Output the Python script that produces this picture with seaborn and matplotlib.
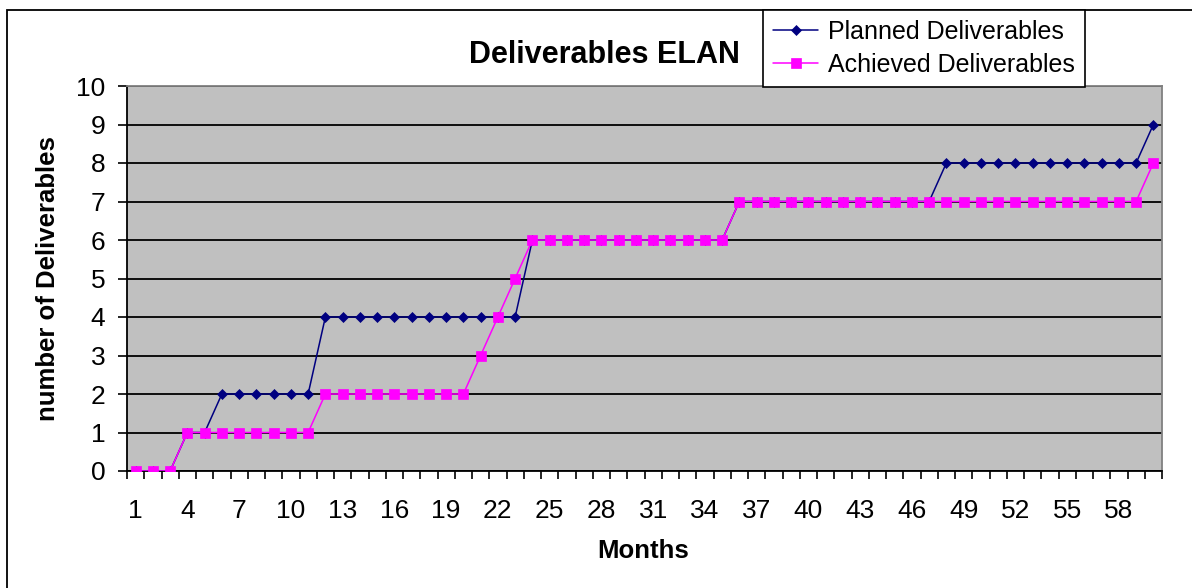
import matplotlib
matplotlib.use("Agg")
import matplotlib.pyplot as plt
import seaborn as sns
import numpy as np
from matplotlib.patches import Rectangle
from matplotlib.ticker import FixedLocator

# data
months = list(range(1, 61))
planned = [0, 0, 0, 1, 1, 2, 2, 2, 2, 2, 2,
           4, 4, 4, 4, 4, 4, 4, 4, 4, 4, 4, 4,
           6, 6, 6, 6, 6, 6, 6, 6, 6, 6, 6, 6,
           7, 7, 7, 7, 7, 7, 7, 7, 7, 7, 7, 7,
           8, 8, 8, 8, 8, 8, 8, 8, 8, 8, 8, 8,
           9]
achieved = [0, 0, 0, 1, 1, 1, 1, 1, 1, 1, 1,
            2, 2, 2, 2, 2, 2, 2, 2, 2,
            3, 4, 5,
            6, 6, 6, 6, 6, 6, 6, 6, 6, 6, 6, 6,
            7, 7, 7, 7, 7, 7, 7, 7, 7, 7, 7, 7,
            7, 7, 7, 7, 7, 7, 7, 7, 7, 7, 7, 7,
            8]
xtick_labels = list(range(1, 59, 3))

sns.set_theme(style="white")
plt.rcParams['font.family'] = ['Liberation Sans', 'DejaVu Sans']
plt.rcParams['text.color'] = 'black'

W, H = 1192, 588
fig = plt.figure(figsize=(W / 100, H / 100), dpi=100, facecolor='white')
ax = fig.add_axes([127 / W, 1 - 471 / H, (1162 - 127) / W, (471 - 86) / H])
ax.set_facecolor('#C0C0C0')

sns.lineplot(x=months, y=planned, ax=ax, color='#000080', marker='D',
             markersize=5.4, markeredgecolor='#000080', markeredgewidth=0.5,
             linewidth=1.1, label='Planned Deliverables', zorder=3)
sns.lineplot(x=months, y=achieved, ax=ax, color='#FF00FF', marker='s',
             markersize=6.8, markeredgecolor='#FF00FF', markeredgewidth=0.5,
             linewidth=1.1, label='Achieved Deliverables', zorder=4)

ax.set_xlim(0.5, 60.5)
ax.set_ylim(0, 10)
ax.set_yticks(range(0, 11))
ax.yaxis.grid(True, color='black', linewidth=1.3)
ax.set_axisbelow(True)
ax.xaxis.grid(False)

ax.set_xticks(xtick_labels)
ax.set_xticklabels([str(v) for v in xtick_labels])
ax.xaxis.set_minor_locator(FixedLocator(np.arange(0.5, 61, 1)))
ax.tick_params(axis='x', which='major', length=0, pad=20, labelsize=19, colors='black')
ax.tick_params(axis='x', which='minor', length=6, width=1.2, direction='out',
               color='black', bottom=True)
ax.tick_params(axis='y', which='major', length=6.5, width=1.2, direction='out',
               pad=9, labelsize=19, colors='black', left=True)

for side in ['left', 'bottom']:
    ax.spines[side].set_color('black')
    ax.spines[side].set_linewidth(1.3)
for side in ['top', 'right']:
    ax.spines[side].set_color('#808080')
    ax.spines[side].set_linewidth(1.3)

ax.set_xlabel('')
ax.set_ylabel('')
handles, labels = ax.get_legend_handles_labels()
ax.get_legend().remove()

leg = fig.legend(handles, labels, loc='upper left', bbox_to_anchor=(763 / W, 1 - 10 / H),
                 fontsize=18, frameon=True, fancybox=False, edgecolor='black',
                 framealpha=1, borderpad=0.4, handlelength=1.8, handletextpad=0.4,
                 labelspacing=0.35, borderaxespad=0)
leg.get_frame().set_linewidth(1.2)
for t in leg.get_texts():
    t.set_color('black')

fig.text(604 / W, 1 - 55 / H, 'Deliverables ELAN', ha='center', va='center',
         fontsize=22, fontweight='bold', color='black')
fig.text(643 / W, 1 - 551 / H, 'Months', ha='center', va='center',
         fontsize=18.5, fontweight='bold', color='black')
fig.text(48 / W, 1 - 279 / H, 'number of Deliverables', ha='center', va='center',
         rotation=90, fontsize=18.5, fontweight='bold', color='black')

# chart area border (runs off the right and bottom edges)
fig.patches.append(Rectangle((7 / W, -0.1), 1.2, 1.1 - 10 / H,
                             transform=fig.transFigure, fill=False,
                             edgecolor='black', linewidth=1.3))

fig.savefig('out.png', dpi=100, facecolor='white')
